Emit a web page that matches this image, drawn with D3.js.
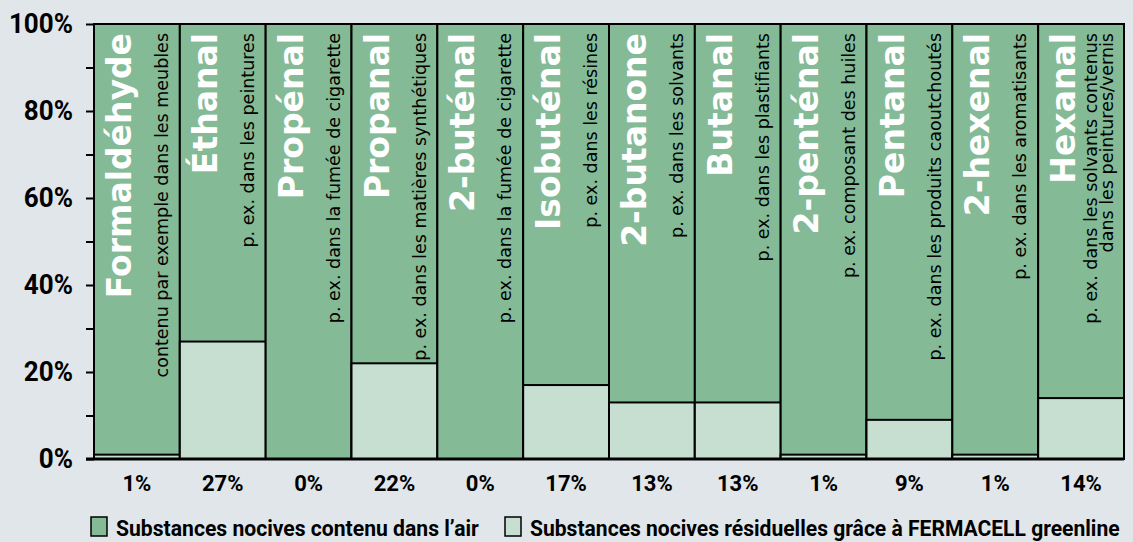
<!DOCTYPE html>
<html>
<head>
<meta charset="utf-8">
<script src="https://cdn.jsdelivr.net/npm/d3@7"></script>
<style>
  html, body { margin: 0; padding: 0; background: #e0e6e9; }
  svg { display: block; }
</style>
</head>
<body>
<script>
'use strict';

// chart data
const names = ["Formaldéhyde", "Éthanal", "Propénal", "Propanal", "2-buténal", "Isobuténal",
               "2-butanone", "Butanal", "2-penténal", "Pentanal", "2-hexenal", "Hexanal"];
const uses = [
  ["contenu par exemple dans les meubles"],
  ["p. ex. dans les peintures"],
  ["p. ex. dans la fumée de cigarette"],
  ["p. ex. dans les matières synthétiques"],
  ["p. ex. dans la fumée de cigarette"],
  ["p. ex. dans les résines"],
  ["p. ex. dans les solvants"],
  ["p. ex. dans les plastifiants"],
  ["p. ex. composant des huiles"],
  ["p. ex. dans les produits caoutchoutés"],
  ["p. ex. dans les aromatisants"],
  ["p. ex. dans les solvants contenus", "dans les peintures/vernis"]
];
const inAir = [100, 100, 100, 100, 100, 100, 100, 100, 100, 100, 100, 100];
const residual = [1, 27, 0, 22, 0, 17, 13, 13, 1, 9, 1, 14];
const yTicks = [0, 10, 20, 30, 40, 50, 60, 70, 80, 90, 100];
const legendLabels = ["Substances nocives contenu dans l’air",
                      "Substances nocives résiduelles grâce à FERMACELL greenline"];

(function() {

  const darkGreen = "#84ba96";
  const lightGreen = "#c6dfd0";
  const W = 1133, H = 542;
  const m = {left: 94, right: 1124, top: 24, bottom: 459};

  const svg = d3.select("body").append("svg")
    .attr("width", W)
    .attr("height", H);

  const x = d3.scaleBand().domain(names).range([m.left, m.right]).padding(0);
  const y = d3.scaleLinear().domain([0, 100]).range([m.bottom, m.top]);

  // y axis: ticks every 10, labels every 20
  const yAxis = svg.append("g")
    .attr("transform", "translate(" + m.left + ",0)")
    .call(d3.axisLeft(y).tickValues(yTicks).tickSize(8).tickPadding(13)
      .tickFormat((d) => d % 20 === 0 ? d + "%" : ""));
  yAxis.select(".domain").remove();
  yAxis.selectAll("line").attr("stroke", "#000").attr("stroke-width", 2);
  yAxis.selectAll("text")
    .style("font-family", "Roboto, sans-serif")
    .style("font-weight", "bold")
    .style("font-size", "28px")
    .attr("fill", "#000")
    .each(function() { // squeeze a little, the original font is condensed
      const len = this.getComputedTextLength();
      if (len > 0) d3.select(this).attr("textLength", len * 0.93).attr("lengthAdjust", "spacingAndGlyphs");
    });

  const bar = svg.selectAll(".bar")
    .data(names)
    .enter().append("g")
    .attr("class", "bar");

  // full bar (substances in air)
  bar.append("rect")
    .attr("x", (d) => x(d))
    .attr("y", (d, i) => y(inAir[i]))
    .attr("width", x.bandwidth())
    .attr("height", (d, i) => y(0) - y(inAir[i]))
    .attr("fill", darkGreen)
    .attr("stroke", "#000")
    .attr("stroke-width", 2);

  // residual part
  bar.filter((d, i) => residual[i] > 0).append("rect")
    .attr("x", (d) => x(d))
    .attr("y", (d) => y(residual[names.indexOf(d)]))
    .attr("width", x.bandwidth())
    .attr("height", (d) => y(0) - y(residual[names.indexOf(d)]))
    .attr("fill", lightGreen)
    .attr("stroke", "#000")
    .attr("stroke-width", 2);

  // rotated substance names
  bar.append("text")
    .attr("transform", (d) => "translate(" + (x(d) + 37) + "," + (m.top + 9) + ") rotate(-90)")
    .attr("text-anchor", "end")
    .style("font-family", "'DejaVu Sans', sans-serif")
    .style("font-weight", "bold")
    .style("font-size", "33px")
    .attr("fill", "#fff")
    .text((d) => d);

  // rotated usage notes
  bar.each(function(d, i) {
    const lines = uses[i];
    const g = d3.select(this);
    lines.forEach((line, j) => {
      const off = lines.length === 1 ? 74 : 59 + j * 16;
      g.append("text")
        .attr("transform", "translate(" + (x(d) + off) + "," + (m.top + 9) + ") rotate(-90)")
        .attr("text-anchor", "end")
        .style("font-family", "'DejaVu Sans', sans-serif")
        .style("font-size", "17.5px")
        .attr("fill", "#000")
        .text(line);
    });
  });

  // bottom baseline
  svg.append("line")
    .attr("x1", m.left - 8)
    .attr("x2", m.right)
    .attr("y1", m.bottom)
    .attr("y2", m.bottom)
    .attr("stroke", "#000")
    .attr("stroke-width", 3);

  // percentage labels under bars
  bar.append("text")
    .attr("x", (d) => x(d) + x.bandwidth() / 2)
    .attr("y", 491)
    .attr("text-anchor", "middle")
    .style("font-family", "Roboto, sans-serif")
    .style("font-weight", "bold")
    .style("font-size", "22px")
    .attr("fill", "#000")
    .text((d, i) => residual[i] + "%");

  // legend
  const legendX = [91, 505];
  const legendLen = [363, 590];
  const legendColors = [darkGreen, lightGreen];
  legendLabels.forEach((label, i) => {
    svg.append("rect")
      .attr("x", legendX[i])
      .attr("y", 517)
      .attr("width", 16)
      .attr("height", 19)
      .attr("fill", legendColors[i])
      .attr("stroke", "#000")
      .attr("stroke-width", 1.5);
    const t = svg.append("text")
      .style("font-family", "Roboto, sans-serif")
      .style("font-weight", "bold")
      .style("font-size", "22px")
      .attr("fill", "#000")
      .text(label);
    // condense horizontally to the width of the original label
    const sx = legendLen[i] / t.node().getComputedTextLength();
    t.attr("transform", "translate(" + (legendX[i] + 25) + ",536) scale(" + sx + ",1)");
  });
})();
</script>
</body>
</html>
